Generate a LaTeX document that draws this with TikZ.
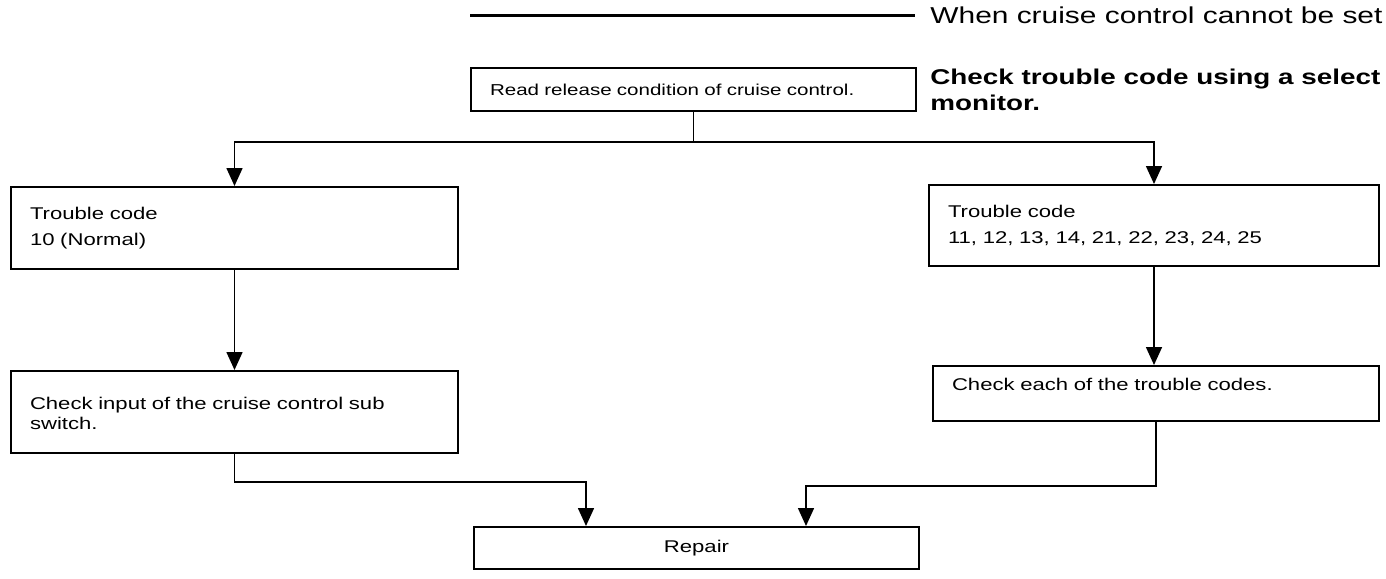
\documentclass[tikz,border=0pt]{standalone}
\usepackage{fontspec}
\setmainfont{Liberation Sans}[FakeStretch=1.3]
\usetikzlibrary{arrows.meta,positioning}

\begin{document}
\begin{tikzpicture}[x=0.5pt,y=-0.5pt,>={Triangle[length=9pt,width=8pt]},
   every node/.style={font=\fontsize{8.5}{10}\selectfont},
   box/.style={draw,line width=1pt,anchor=north west,inner xsep=9.5pt,
     inner ysep=0pt,align=left},
   link/.style={line width=0.8pt}]
  \useasboundingbox (0,0) rectangle (1386,578);
  % heading
  \coordinate (rule0) at (470,15);
  \coordinate (rule1) at (915,15);
  \draw[line width=1.5pt] (rule0) -- (rule1);
  \node[anchor=west,inner sep=0pt,font=\fontsize{11.5}{14}\selectfont] (when)
    at (930,15) {When cruise control cannot be set};
  \node[anchor=west,inner sep=0pt,align=left,
    font=\fontsize{10.7}{13}\selectfont\bfseries] (howto)
    at (930,90) {Check trouble code using a select\\monitor.};
  % boxes
  \node[box,text width=203.5pt,minimum height=21.5pt,
    font=\fontsize{7.9}{10}\selectfont] (read) at (470,67)
    {Read release condition of cruise control.};
  \node[box,text width=204.5pt,minimum height=41pt] (tcn) at (10,186)
    {Trouble code\\[3pt]10 (Normal)};
  \node[box,text width=204.5pt,minimum height=41pt,text depth=9pt] (chksub)
    at (10,370) {Check input of the cruise control sub\\switch.};
  \node[box,text width=206pt,minimum height=40.5pt] (tcx) at (928,184)
    {Trouble code\\[3pt]11, 12, 13, 14, 21, 22, 23, 24, 25};
  \node[box,text width=204pt,minimum height=27.5pt,text depth=9.5pt] (chkeach)
    at (932,365) {Check each of the trouble codes.};
  \node[box,text width=203.5pt,minimum height=21pt,align=center] (repair)
    at (473,526) {Repair};
  % connectors
  \draw[link] (read.south) -- ++(0,30) coordinate (fork);
  \draw[link,->] (fork) -| (tcn.north);
  \draw[link,->] (fork) -| (tcx.north);
  \draw[link,->] (tcn) -- (chksub);
  \draw[link,->] (tcx.south) -- (tcx.south |- chkeach.north);
  \draw[link,->] (chksub.south) -- ++(0,28) -| ([xshift=56.5pt]repair.north west);
  \draw[link,->] (chkeach.south) -- ++(0,64) -| ([xshift=-57pt]repair.north east);
\end{tikzpicture}
\end{document}
